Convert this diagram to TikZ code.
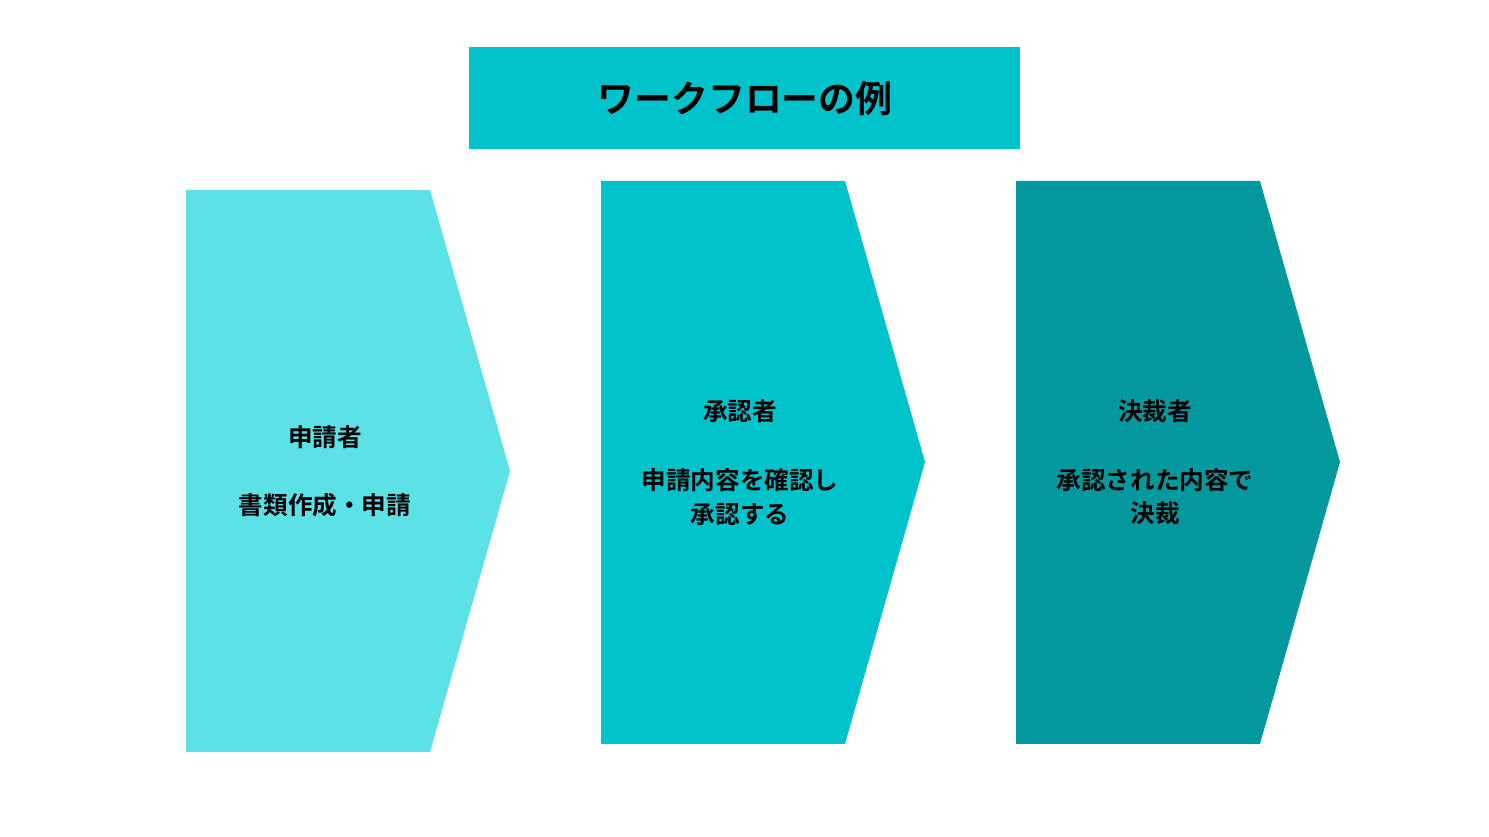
\documentclass[tikz,border=0pt]{standalone}
\usepackage{fontspec}
\newfontfamily\jpfont{Noto Sans CJK JP}[BoldFont={Noto Sans CJK JP Bold}]
\usepackage{tikz}
\definecolor{stepLight}{HTML}{5CE1E6}
\definecolor{stepMid}{HTML}{00C2CB}
\definecolor{stepDark}{HTML}{03989E}
\tikzset{
	steptext/.style={align=center, inner sep=0pt, font=\jpfont\bfseries\fontsize{14}{19}\selectfont},
	titletext/.style={inner sep=0pt, font=\jpfont\bfseries\fontsize{21}{25}\selectfont}
}

\begin{document}
\begin{tikzpicture}[x=0.02cm, y=-0.02cm]
		%%%%% START %%%%%
		\useasboundingbox (0, 0) rectangle (1489, 837);
		
		\fill[stepMid] (469, 47) rectangle (1020, 149);
		\node[titletext] (title) at (745, 99) {ワークフローの例};
		
		\fill[stepLight] (186, 190) -- (430, 190) -- (510, 471) -- (430, 752) -- (186, 752) -- cycle;
		\node[steptext] (role1) at (325, 437) {申請者};
		\node[steptext] (task1) at (325, 505) {書類作成・申請};
		
		\fill[stepMid] (601, 181) -- (845, 181) -- (925, 462) -- (845, 744) -- (601, 744) -- cycle;
		\node[steptext] (role2) at (740, 411) {承認者};
		\node[steptext] (task2) at (740, 497) {申請内容を確認し\\承認する};
		
		\fill[stepDark] (1016, 181) -- (1260, 181) -- (1340, 462) -- (1260, 744) -- (1016, 744) -- cycle;
		\node[steptext] (role3) at (1155, 411) {決裁者};
		\node[steptext] (task3) at (1155, 497) {承認された内容で\\決裁};
		%%%%% END %%%%%
	\end{tikzpicture}
\end{document}
